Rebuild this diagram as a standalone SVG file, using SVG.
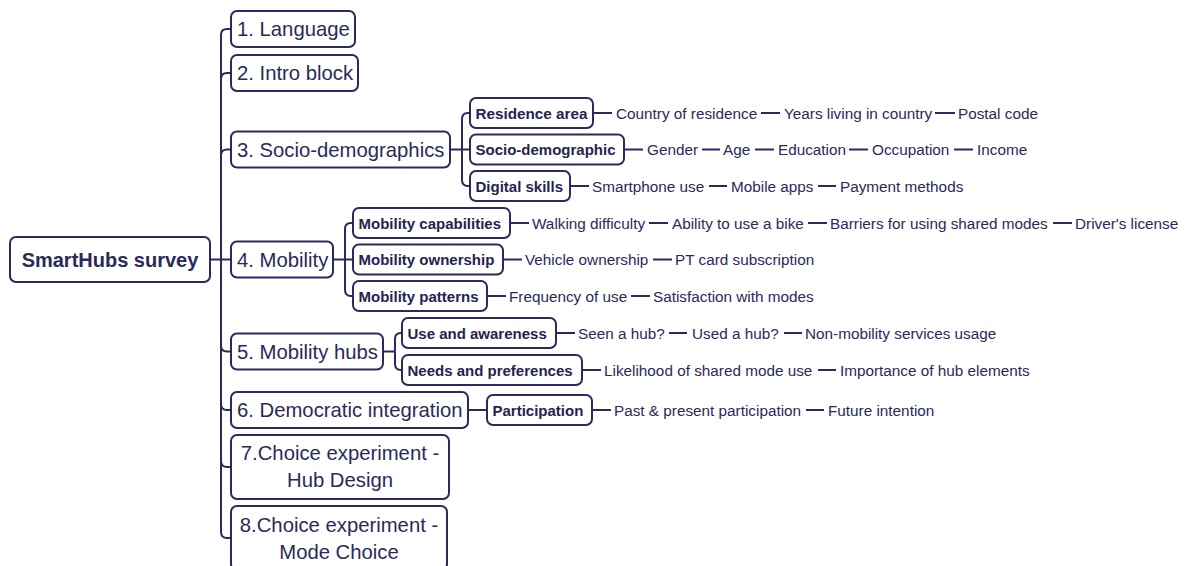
<svg xmlns="http://www.w3.org/2000/svg" width="1186" height="566" viewBox="0 0 1186 566">
<style>
.box{fill:#ffffff;stroke:#2a2a60;stroke-width:2}
.c{fill:none;stroke:#2a2a60;stroke-width:2}
.l1{font-family:"Liberation Sans",Arial,sans-serif;font-size:20.3px;fill:#2a2a5a}
.root{font-family:"Liberation Sans",Arial,sans-serif;font-size:20px;font-weight:bold;fill:#2a2a5a}
.l2{font-family:"Liberation Sans",Arial,sans-serif;font-size:15px;font-weight:bold;fill:#24244f}
.lf{font-family:"Liberation Sans",Arial,sans-serif;font-size:15.3px;fill:#2a2a5a}
</style>
<rect width="1186" height="566" fill="#ffffff"/>
<g id="connectors">
  <path class="c" d="M210,259.5 H221"/>
  <path class="c" d="M221,259.5 V35 Q221,29 227,29 H231"/>
  <path class="c" d="M221,259.5 V79 Q221,73 227,73 H231"/>
  <path class="c" d="M221,259.5 V155.5 Q221,149.5 227,149.5 H231"/>
  <path class="c" d="M221,259.5 H231"/>
  <path class="c" d="M221,259.5 V345.5 Q221,351.5 227,351.5 H231"/>
  <path class="c" d="M221,259.5 V404 Q221,410 227,410 H231"/>
  <path class="c" d="M221,259.5 V461 Q221,467 227,467 H231"/>
  <path class="c" d="M221,259.5 V532 Q221,538 227,538 H231"/>
  <path class="c" d="M450,149.5 H470"/>
  <path class="c" d="M462,149.5 V119 Q462,113 468,113 H470"/>
  <path class="c" d="M462,149.5 V180 Q462,186 468,186 H470"/>
  <path class="c" d="M333,259.5 H353"/>
  <path class="c" d="M345,259.5 V229 Q345,223 351,223 H353"/>
  <path class="c" d="M345,259.5 V290 Q345,296 351,296 H353"/>
  <path class="c" d="M383,351.5 H395"/>
  <path class="c" d="M395,351.5 V339 Q395,333 401,333 H402"/>
  <path class="c" d="M395,351.5 V364 Q395,370 401,370 H402"/>
  <path class="c" d="M468,410 H487"/>
  <path class="c" d="M593,113 H612 M761,113 H780 M935,113 H955"/>
  <path class="c" d="M624,149.5 H643 M702,149.5 H720 M755,149.5 H774 M849,149.5 H868 M954,149.5 H973"/>
  <path class="c" d="M570,186 H589 M709,186 H727 M818,186 H836"/>
  <path class="c" d="M510,223 H529 M649,223 H668 M808,223 H827 M1053,223 H1072"/>
  <path class="c" d="M503,259.5 H522 M653,259.5 H672"/>
  <path class="c" d="M487,296 H506 M631,296 H650"/>
  <path class="c" d="M556,333 H575 M669,333 H687 M784,333 H802"/>
  <path class="c" d="M582,370 H601 M818,370 H836"/>
  <path class="c" d="M592,410 H611 M806,410 H824"/>
</g>
<g id="root"><rect class="box" x="10" y="237" width="200" height="45" rx="6"/><text class="root" x="110" y="266.5" text-anchor="middle">SmartHubs survey</text></g>
<g id="n1"><rect class="box" x="231" y="11" width="124" height="36" rx="6"/><text class="l1" x="237" y="36">1. Language</text></g>
<g id="n2"><rect class="box" x="231" y="55" width="127" height="36" rx="6"/><text class="l1" x="237" y="80">2. Intro block</text></g>
<g id="n3"><rect class="box" x="231" y="131.5" width="219" height="36" rx="6"/><text class="l1" x="237" y="156.5">3. Socio-demographics</text></g>
<g id="n4"><rect class="box" x="231" y="241.5" width="102" height="36" rx="6"/><text class="l1" x="237" y="266.5">4. Mobility</text></g>
<g id="n5"><rect class="box" x="231" y="333.5" width="152" height="36" rx="6"/><text class="l1" x="237" y="358.5">5. Mobility hubs</text></g>
<g id="n6"><rect class="box" x="231" y="392" width="237" height="36" rx="6"/><text class="l1" x="237" y="417">6. Democratic integration</text></g>
<g id="n7"><rect class="box" x="231" y="435" width="218" height="64" rx="6"/><text class="l1" x="340" y="460" text-anchor="middle">7.Choice experiment -</text><text class="l1" x="340" y="487" text-anchor="middle">Hub Design</text></g>
<g id="n8"><rect class="box" x="231" y="506" width="216" height="64" rx="6"/><text class="l1" x="339" y="532" text-anchor="middle">8.Choice experiment -</text><text class="l1" x="339" y="559" text-anchor="middle">Mode Choice</text></g>
<g id="n3a"><rect class="box" x="470" y="98" width="123" height="30" rx="6"/><text class="l2" x="475.5" y="118.5" textLength="112" lengthAdjust="spacingAndGlyphs">Residence area</text></g>
<g id="n3b"><rect class="box" x="470" y="134.5" width="154" height="30" rx="6"/><text class="l2" x="475.5" y="155">Socio-demographic</text></g>
<g id="n3c"><rect class="box" x="470" y="171" width="100" height="30" rx="6"/><text class="l2" x="475.5" y="191.5">Digital skills</text></g>
<g id="n4a"><rect class="box" x="353" y="208" width="157" height="30" rx="6"/><text class="l2" x="358.5" y="228.5">Mobility capabilities</text></g>
<g id="n4b"><rect class="box" x="353" y="244.5" width="150" height="30" rx="6"/><text class="l2" x="358.5" y="265">Mobility ownership</text></g>
<g id="n4c"><rect class="box" x="353" y="281" width="134" height="30" rx="6"/><text class="l2" x="358.5" y="301.5">Mobility patterns</text></g>
<g id="n5a"><rect class="box" x="402" y="318" width="154" height="30" rx="6"/><text class="l2" x="407.5" y="338.5">Use and awareness</text></g>
<g id="n5b"><rect class="box" x="402" y="355" width="180" height="30" rx="6"/><text class="l2" x="407.5" y="375.5">Needs and preferences</text></g>
<g id="n6a"><rect class="box" x="487" y="395" width="105" height="30" rx="6"/><text class="l2" x="492.5" y="415.5">Participation</text></g>
<g id="leaves-3a"><text class="lf" x="616" y="118.5">Country of residence</text><text class="lf" x="784" y="118.5">Years living in country</text><text class="lf" x="958" y="118.5">Postal code</text></g>
<g id="leaves-3b"><text class="lf" x="647" y="155">Gender</text><text class="lf" x="723" y="155">Age</text><text class="lf" x="778" y="155">Education</text><text class="lf" x="872" y="155">Occupation</text><text class="lf" x="977" y="155">Income</text></g>
<g id="leaves-3c"><text class="lf" x="592" y="191.5">Smartphone use</text><text class="lf" x="731" y="191.5">Mobile apps</text><text class="lf" x="840" y="191.5">Payment methods</text></g>
<g id="leaves-4a"><text class="lf" x="532" y="228.5">Walking difficulty</text><text class="lf" x="672" y="228.5">Ability to use a bike</text><text class="lf" x="830" y="228.5">Barriers for using shared modes</text><text class="lf" x="1075" y="228.5">Driver's license</text></g>
<g id="leaves-4b"><text class="lf" x="525" y="265">Vehicle ownership</text><text class="lf" x="675" y="265">PT card subscription</text></g>
<g id="leaves-4c"><text class="lf" x="509" y="301.5">Frequency of use</text><text class="lf" x="653" y="301.5">Satisfaction with modes</text></g>
<g id="leaves-5a"><text class="lf" x="578" y="338.5">Seen a hub?</text><text class="lf" x="692" y="338.5">Used a hub?</text><text class="lf" x="805" y="338.5">Non-mobility services usage</text></g>
<g id="leaves-5b"><text class="lf" x="604" y="375.5">Likelihood of shared mode use</text><text class="lf" x="840" y="375.5">Importance of hub elements</text></g>
<g id="leaves-6a"><text class="lf" x="614" y="415.5">Past &amp; present participation</text><text class="lf" x="828" y="415.5">Future intention</text></g>
</svg>
